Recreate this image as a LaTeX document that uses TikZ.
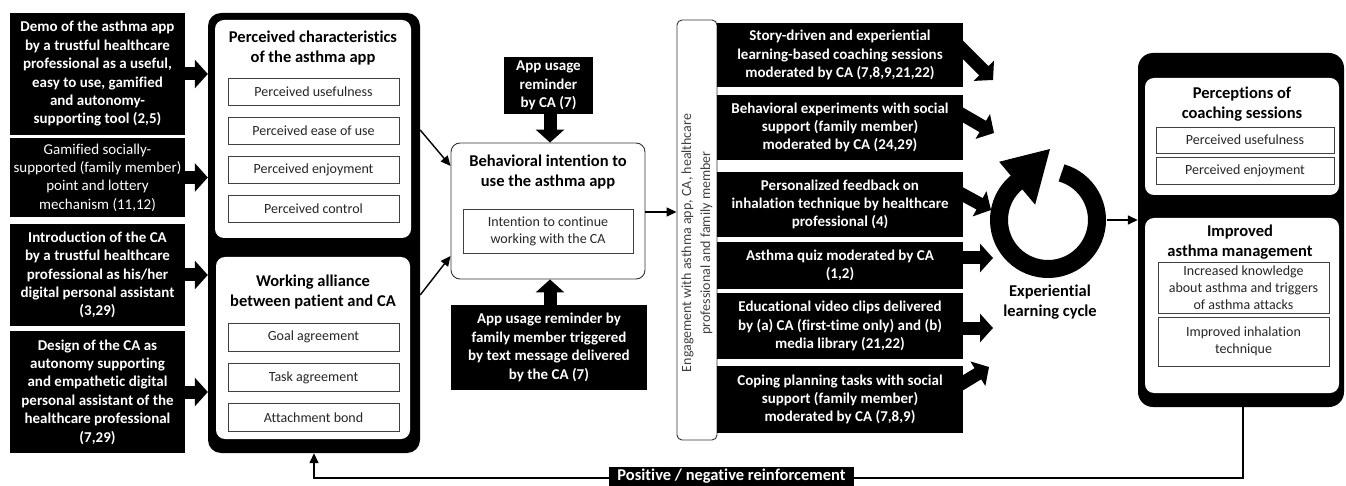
\documentclass[tikz,border=0pt]{standalone}
\usepackage{fontspec}
\setmainfont{Carlito}[Ligatures=NoCommon]
\usetikzlibrary{arrows.meta,calc}
\begin{document}
\begin{tikzpicture}[x=1pt,y=-1pt,
  blk/.style={fill=black,text=white,font=\bfseries\fontsize{15}{18.4}\selectfont,align=center,inner sep=0pt,anchor=center},
  blkr/.style={blk,font=\fontsize{15}{18.4}\selectfont},
  frame/.style={fill=black,rounded corners=13pt,inner sep=0pt},
  wbox/.style={fill=white,rounded corners=9pt,inner sep=0pt},
  subbox/.style={draw=black!75,line width=0.9pt,fill=white,font=\fontsize{14}{17}\selectfont,align=center,inner sep=0pt,text=black!85},
  ttl/.style={font=\bfseries\fontsize{16.5}{20}\selectfont,align=center,inner sep=0pt},
  thinarrow/.style={line width=1.4pt,-{Triangle[length=10pt,width=9pt]}},
  fatarrow/.style={line width=13pt,-{Triangle[length=13pt,width=28pt]}},
]
\useasboundingbox[fill=white] (0,0) rectangle (1346,486);

% ---------- left black boxes
\node[blk,minimum width=175pt,minimum height=122pt] (L1) at (97.5,74) {Demo of the asthma app\\by a trustful healthcare\\professional as a useful,\\easy to use, gamified\\and autonomy-\\supporting tool (2,5)};
\node[blkr,minimum width=175pt,minimum height=79pt] (L2) at (97.5,177.5) {Gamified socially-\\supported (family member)\\point and lottery\\mechanism (11,12)};
\node[blk,minimum width=175pt,minimum height=102pt] (L3) at (97.5,275) {Introduction of the CA\\by a trustful healthcare\\professional as his/her\\digital personal assistant\\(3,29)};
\node[blk,minimum width=175pt,minimum height=122pt] (L4) at (97.5,392) {Design of the CA as\\autonomy supporting\\and empathetic digital\\personal assistant of the\\healthcare professional\\(7,29)};

% ---------- big left frame
\node[frame,minimum width=212pt,minimum height=440pt] (BL) at (314,233) {};
\node[wbox,minimum width=196pt,minimum height=218pt] (W1) at (313,129) {};
\node[wbox,minimum width=194pt,minimum height=182pt] (W2) at (313,348) {};
\node[ttl] (W1t) at (313,48) {Perceived characteristics\\of the asthma app};
\node[subbox,minimum width=171pt,minimum height=27pt] (S1) at (313.5,91.5) {Perceived usefulness};
\node[subbox,minimum width=171pt,minimum height=27pt] (S2) at (313.5,131) {Perceived ease of use};
\node[subbox,minimum width=171pt,minimum height=27pt] (S3) at (313.5,170) {Perceived enjoyment};
\node[subbox,minimum width=171pt,minimum height=27pt] (S4) at (313.5,208.5) {Perceived control};
\node[ttl] (W2t) at (313,292.5) {Working alliance\\between patient and CA};
\node[subbox,minimum width=171pt,minimum height=28pt] (G1) at (313.5,337) {Goal agreement};
\node[subbox,minimum width=171pt,minimum height=28pt] (G2) at (313.5,377.5) {Task agreement};
\node[subbox,minimum width=171pt,minimum height=28pt] (G3) at (313.5,417.5) {Attachment bond};

\foreach \n in {L1,L2,L3,L4}
  \draw[fatarrow] ($(\n.east)+(-2,0)$) -- (\n.east -| BL.west);

% ---------- behavioural intention
\node[draw=black!80,line width=0.9pt,fill=white,rounded corners=9pt,minimum width=194pt,minimum height=136pt,inner sep=0pt] (B) at (548,211) {};
\node[ttl] (Bt) at (548,172) {Behavioral intention to\\use the asthma app};
\node[subbox,minimum width=170pt,minimum height=44pt] (Bi) at (548,231) {Intention to continue\\working with the CA};
\node[blk,minimum width=89pt,minimum height=57pt] (T) at (548.5,85.5) {App usage\\reminder\\by CA (7)};
\node[blk,minimum width=196pt,minimum height=85pt] (Bt2) at (549,347.5) {App usage reminder by\\family member triggered\\by text message delivered\\by the CA (7)};
\draw[fatarrow] ($(T.south)+(1.5,-2)$) -- (B.north -| 550,0);
\draw[fatarrow] ($(Bt2.north)+(1,2)$) -- (B.south -| 550,0);
\draw[thinarrow] (BL.east |- 0,130) -- (B.west |- 0,166);
\draw[thinarrow] (BL.east |- 0,295) -- (B.west |- 0,256);

% ---------- engagement column
\node[draw=black!80,line width=0.9pt,fill=white,rounded corners=5pt,minimum width=40pt,minimum height=420pt,inner sep=0pt] (V) at (697,230) {};
\node[rotate=90,font=\fontsize{14}{19}\selectfont,text=black!75,align=center,inner sep=0pt] (Vt) at (697,243) {Engagement with asthma app, CA, healthcare\\professional and family member};
\draw[thinarrow] (B.east |- 0,212) -- (V.west |- 0,212);

\node[blk,minimum width=246pt,minimum height=64pt] (R1) at (840,55) {Story-driven and experiential\\learning-based coaching sessions\\moderated by CA (7,8,9,21,22)};
\node[blk,minimum width=246pt,minimum height=65pt] (R2) at (840,127.5) {Behavioral experiments with social\\support (family member)\\moderated by CA (24,29)};
\node[blk,minimum width=246pt,minimum height=65pt] (R3) at (840,204.5) {Personalized feedback on\\inhalation technique by healthcare\\professional (4)};
\node[blk,minimum width=246pt,minimum height=47pt] (R4) at (840,265.5) {Asthma quiz moderated by CA\\(1,2)};
\node[blk,minimum width=246pt,minimum height=66pt] (R5) at (840,326) {Educational video clips delivered\\by (a) CA (first-time only) and (b)\\media library (21,22)};
\node[blk,minimum width=246pt,minimum height=67pt] (R6) at (840,399.5) {Coping planning tasks with social\\support (family member)\\moderated by CA (7,8,9)};

% ---------- experiential learning cycle
\coordinate (cy) at (1048,220);
\coordinate (t1) at (993,80);
\coordinate (t2) at (994,133);
\coordinate (t3) at (991,210);
\coordinate (t4) at (993,258);
\coordinate (t5) at (993,328);
\coordinate (t6) at (989,367);
\draw[fatarrow] ($(R1.east)+(-8,-13)$) -- (t1);
\draw[fatarrow] ($(R2.east)+(-8,-17)$) -- (t2);
\draw[fatarrow] ($(R3.east)+(-8,-14)$) -- (t3);
\draw[fatarrow] ($(R4.east)+(-8,-7.5)$) -- (t4);
\draw[fatarrow] ($(R5.east)+(-8,2)$) -- (t5);
\draw[fatarrow] ($(R6.east)+(-8,-12)$) -- (t6);
\begin{scope}[shift={(cy)},y=1pt]
  \draw[line width=18pt] (74:49) arc[start angle=74,end angle=-231,radius=49];
  \fill (130:76) -- (88.4:71) -- (130:20) -- cycle;
\end{scope}
\node[ttl] (cyt) at (1050,302) {Experiential\\learning cycle};

% ---------- right frame
\node[frame,minimum width=206pt,minimum height=354pt,rounded corners=15pt] (RB) at (1241,230) {};
\node[wbox,minimum width=194pt,minimum height=117pt] (A) at (1242,136.5) {};
\node[ttl] (At) at (1242,104.5) {Perceptions of\\coaching sessions};
\node[subbox,minimum width=178pt,minimum height=26pt] (A1) at (1245,140) {Perceived usefulness};
\node[subbox,minimum width=178pt,minimum height=27pt] (A2) at (1245,170.5) {Perceived enjoyment};
\node[wbox,minimum width=194pt,minimum height=175pt] (Bm) at (1242,305.5) {};
\node[ttl] (Bmt) at (1240,242.5) {Improved\\asthma management};
\node[subbox,minimum width=171pt,minimum height=51pt] (B1) at (1243.5,287.5) {Increased knowledge\\about asthma and triggers\\of asthma attacks};
\node[subbox,minimum width=171pt,minimum height=49pt] (B2) at (1243.5,341.5) {Improved inhalation\\technique};
\draw[thinarrow] ($(cy)+(59,0)$) -- (RB.west |- cy);

% ---------- feedback loop
\coordinate (fb1) at (1243,478);
\coordinate (fb2) at (314,478);
\draw[thinarrow] (RB.south -| fb1) -- (fb1) -- (fb2) -- (BL.south -| fb2);
\node[fill=black,text=white,font=\bfseries\fontsize{16.5}{19}\selectfont,minimum width=245pt,minimum height=19pt,inner sep=0pt] (RL) at (731.5,476.5) {Positive / negative reinforcement};
\end{tikzpicture}
\end{document}
